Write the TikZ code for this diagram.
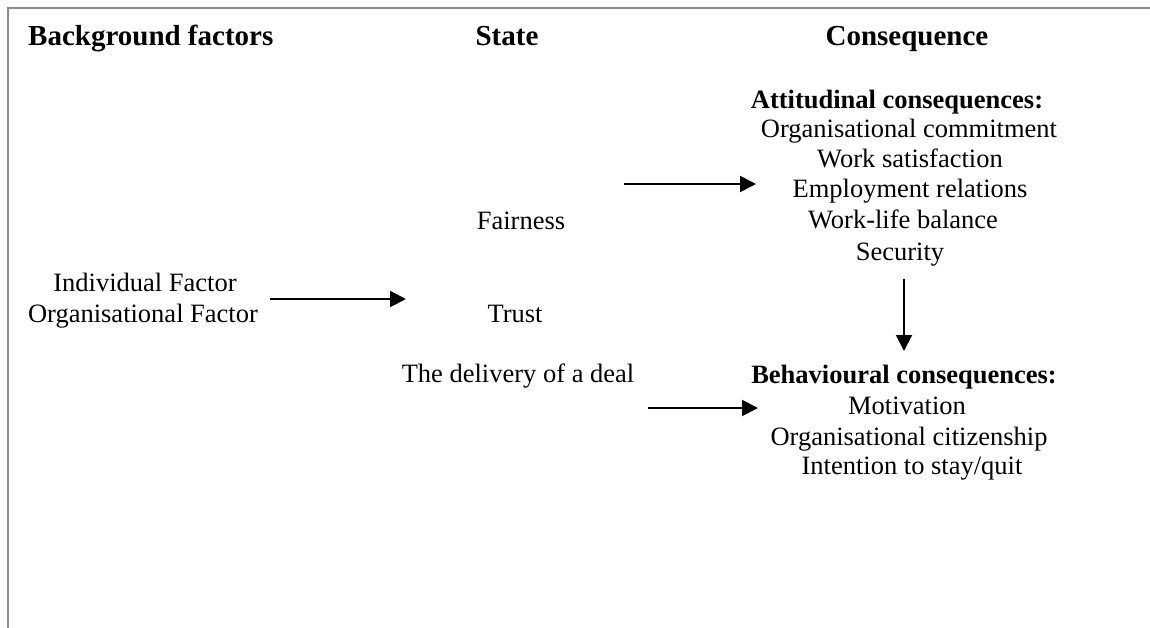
\documentclass[tikz,border=0pt]{standalone}
\usepackage{fontspec}
\setmainfont{Liberation Serif}
\usetikzlibrary{arrows.meta}
\tikzset{
  txt/.style={inner sep=0pt, anchor=base, font=\fontsize{26.5}{30}\selectfont},
  hdr/.style={inner sep=0pt, anchor=base, font=\fontsize{29}{32}\selectfont\bfseries},
  sub/.style={inner sep=0pt, anchor=base, font=\fontsize{26.5}{30}\selectfont\bfseries},
  arr/.style={line width=2pt, -{Triangle[length=16pt,width=16pt]}},
  frame/.style={line width=2pt, draw=black!45}
}
\begin{document}
\begin{tikzpicture}[x=1pt,y=-1pt]
\useasboundingbox (0,0) rectangle (1150,628);
\draw[frame] (8,628) -- (8,8) -- (1150,8);
% headers
\node[hdr, anchor=base west] (hbg) at (28,46) {Background factors};
\node[hdr] (hst) at (507,46) {State};
\node[hdr] (hco) at (907,46) {Consequence};
% attitudinal
\node[sub] (att) at (897,109) {Attitudinal consequences:};
\node[txt] (oc) at (909,138) {Organisational commitment};
\node[txt] (ws) at (910,168) {Work satisfaction};
\node[txt] (er) at (910,198) {Employment relations};
\node[txt] (wl) at (903,229) {Work-life balance};
\node[txt] (se) at (900,260) {Security};
% state
\node[txt] (fa) at (521,230) {Fairness};
\node[txt] (tr) at (515,322) {Trust};
\node[txt] (dd) at (518,382) {The delivery of a deal};
% background
\node[txt] (ind) at (145,291) {Individual Factor};
\node[txt] (org) at (143,322) {Organisational Factor};
% behavioural
\node[sub] (beh) at (904,383) {Behavioural consequences:};
\node[txt] (mo) at (907,414) {Motivation};
\node[txt] (ci) at (909,445) {Organisational citizenship};
\node[txt] (in) at (912,474) {Intention to stay/quit};
% arrow ends
\coordinate (a1s) at (270,299); \coordinate (a1e) at (406,299);
\coordinate (a2s) at (624,184); \coordinate (a2e) at (756,184);
\coordinate (a3s) at (904,279); \coordinate (a3e) at (904,351);
\coordinate (a4s) at (648,408); \coordinate (a4e) at (758,408);
\draw[arr] (a1s) -- (a1e);
\draw[arr] (a2s) -- (a2e);
\draw[arr] (a3s) -- (a3e);
\draw[arr] (a4s) -- (a4e);
\end{tikzpicture}
\end{document}
